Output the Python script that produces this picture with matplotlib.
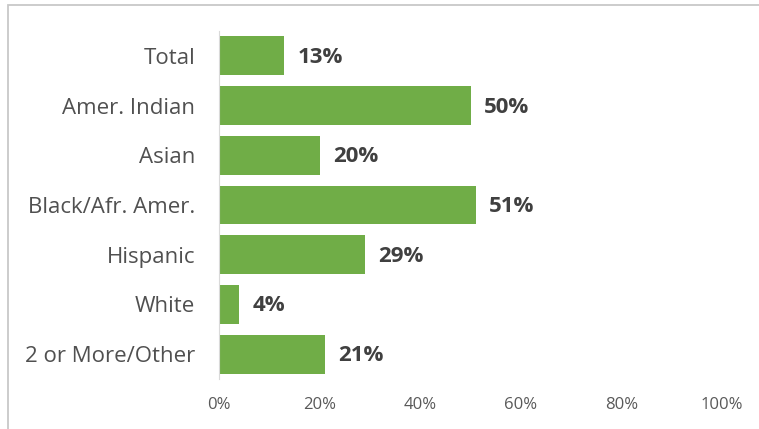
import matplotlib
matplotlib.use("Agg")
import matplotlib.pyplot as plt
from matplotlib.patches import Rectangle

categories = ["Total", "Amer. Indian", "Asian", "Black/Afr. Amer.",
              "Hispanic", "White", "2 or More/Other"]
values = [13, 50, 20, 51, 29, 4, 21]
xticks = [0, 20, 40, 60, 80, 100]

plt.rcParams['font.family'] = ['Open Sans', 'DejaVu Sans']

fig = plt.figure(figsize=(7.59, 4.29), dpi=100)
ax = fig.add_axes([219 / 759, 1 - 379 / 429, (722 - 219) / 759, (379 - 31) / 429])

# chart frame, only the top and left edges show
fig.patches.append(Rectangle((8 / 759, -0.1), 1.0, 1 - 5.5 / 429 + 0.1,
                             transform=fig.transFigure, fill=False,
                             edgecolor='#C8C8C8', linewidth=1.3))

ypos = list(range(len(categories)))
ax.barh(ypos, values, height=0.78, color='#70AD47')
for y, v in zip(ypos, values):
    ax.text(v + 2.6, y + 0.03, f"{v}%", va='center', ha='left', fontsize=16,
            fontweight='bold', color='#404040')

ax.set_ylim(len(categories) - 0.5, -0.5)
ax.set_xlim(0, 100)
ax.set_yticks(ypos)
ax.set_yticklabels(categories, fontsize=16, color='#505050')
ax.set_xticks(xticks)
ax.set_xticklabels([f"{t}%" for t in xticks], fontsize=12, color='#595959')
ax.tick_params(axis='both', length=0)
ax.tick_params(axis='y', pad=17)
ax.tick_params(axis='x', pad=13)

for side in ['top', 'right', 'bottom']:
    ax.spines[side].set_visible(False)
ax.spines['left'].set_color('#D9D9D9')
ax.spines['left'].set_linewidth(0.8)

fig.savefig("out.png", dpi=100)
